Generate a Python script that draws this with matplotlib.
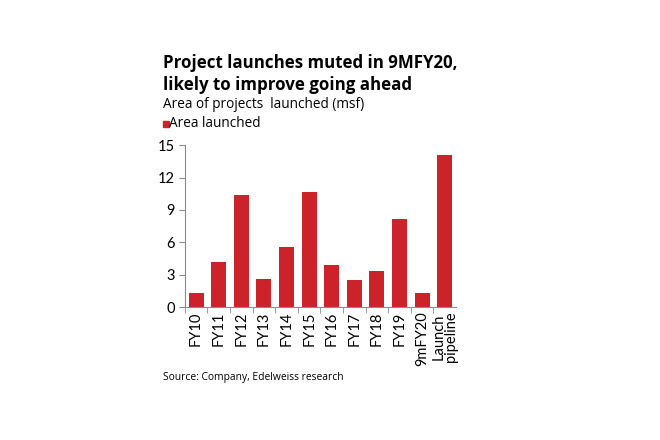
import matplotlib
matplotlib.use("Agg")
import matplotlib.pyplot as plt
from matplotlib.patches import Rectangle

categories = ["FY10", "FY11", "FY12", "FY13", "FY14", "FY15", "FY16",
              "FY17", "FY18", "FY19", "9mFY20", "Launch\npipeline"]
area_launched = [1.33, 4.2, 10.43, 2.6, 5.53, 10.68, 3.93, 2.47, 3.34, 8.13, 1.33, 14.08]
y_ticks = [0, 3, 6, 9, 12, 15]

RED = "#cc2229"
GREY = "#8c8c8c"

plt.rcParams["font.family"] = ["Open Sans", "DejaVu Sans"]

fig = plt.figure(figsize=(6.6, 4.4), dpi=100)
ax = fig.add_axes([0.280, 0.302, 0.411, 0.368])

xs = list(range(len(categories)))
ax.bar(xs, area_launched, width=0.66, color=RED, zorder=2)

ax.set_xlim(-0.5, len(categories) - 0.5)
ax.set_ylim(0, 15)
ax.set_yticks(y_ticks)
ax.set_yticklabels([str(t) for t in y_ticks], fontsize=10.5, family=["Lato", "DejaVu Sans"])
ax.set_xticks(xs)
ax.set_xticklabels(categories, rotation=90, fontsize=10.5, linespacing=0.85,
                   family=["Lato", "DejaVu Sans"])
ax.set_xticks([x + 0.5 for x in xs[:-1]] + [-0.5], minor=True)
ax.tick_params(axis="x", which="major", length=0, pad=3)
ax.tick_params(axis="x", which="minor", length=4, color=GREY, direction="out")
ax.tick_params(axis="y", length=4, color=GREY, pad=3)

for side in ["top", "right"]:
    ax.spines[side].set_visible(False)
for side in ["left", "bottom"]:
    ax.spines[side].set_color(GREY)
    ax.spines[side].set_linewidth(0.8)

LEFT = 0.247
fig.text(LEFT, 0.846, "Project launches muted in 9MFY20,", fontsize=12.2,
         fontweight="bold", va="baseline", ha="left")
fig.text(LEFT, 0.795, "likely to improve going ahead", fontsize=12.2,
         fontweight="bold", va="baseline", ha="left")
fig.text(LEFT, 0.7545, "Area of projects  launched (msf)", fontsize=9.8,
         va="baseline", ha="left")
fig.patches.append(Rectangle((LEFT, 0.712), 0.009, 0.0125, transform=fig.transFigure,
                             color=RED, figure=fig))
fig.text(0.256, 0.711, "Area launched", fontsize=9.8, va="baseline", ha="left")
fig.text(LEFT, 0.143, "Source: Company, Edelweiss research", fontsize=7.4,
         va="center", ha="left")

fig.savefig("out.png", dpi=100)
